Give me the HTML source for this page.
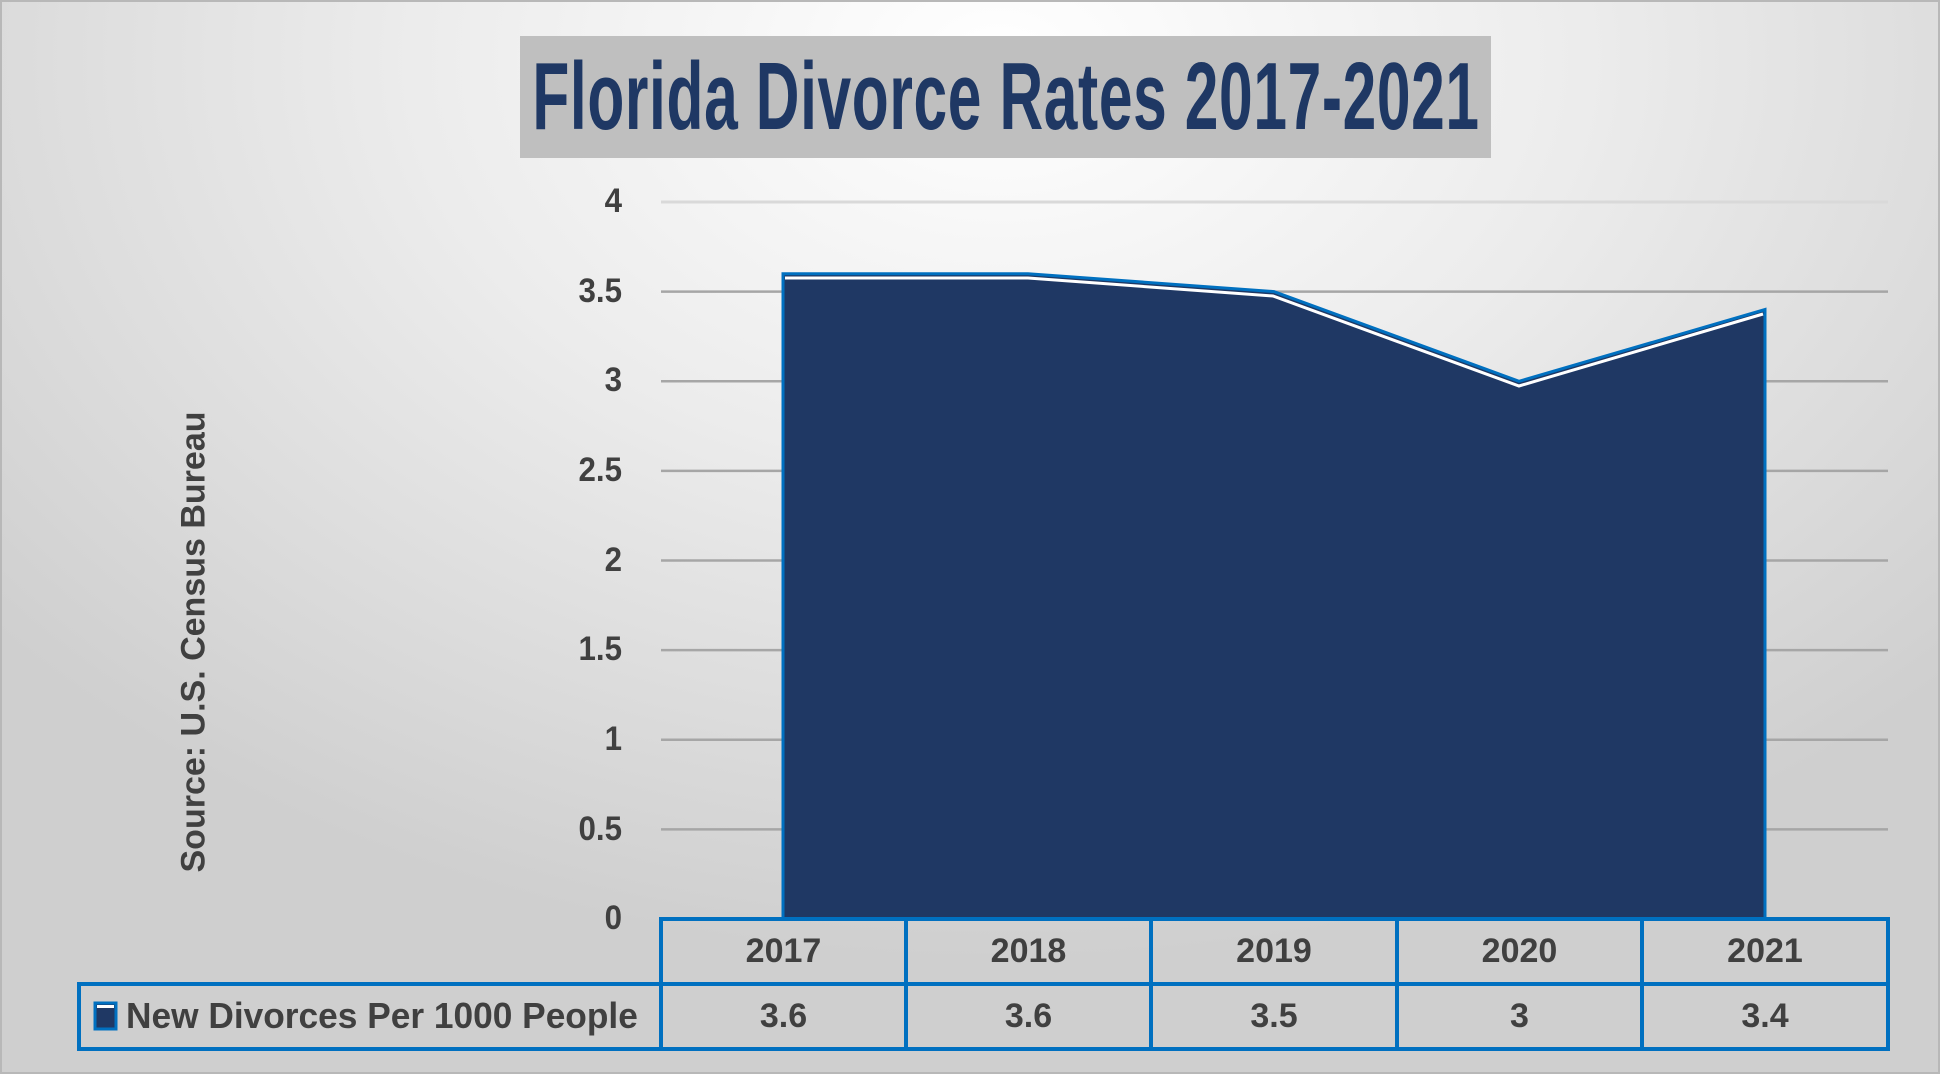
<!DOCTYPE html>
<html><head><style>
html,body{margin:0;padding:0}
body{width:1940px;height:1074px;overflow:hidden;background:radial-gradient(ellipse 1300px 900px at 1000px 60px,#ffffff 0%,#ececec 45%,#cfcfcf 100%);font-family:"Liberation Sans",sans-serif;position:relative}
.frame{position:absolute;left:0;top:0;width:1936px;height:1070px;border:2px solid #b8b8b8}
.title{position:absolute;left:520px;top:36px;width:971px;height:122px;background:#bfbfbf;overflow:hidden}
.title span{position:absolute;left:50%;top:6px;white-space:nowrap;font-weight:bold;font-size:96px;color:#1f3864;transform:translateX(-50%) scaleX(0.63);transform-origin:center;letter-spacing:1px}
.yl{position:absolute;width:90px;text-align:right;font-weight:bold;font-size:34px;color:#404040;left:532px;transform:scaleX(0.92);transform-origin:right}
.src{position:absolute;left:194px;top:642px;transform:translate(-50%,-50%) rotate(-90deg);white-space:nowrap;font-weight:bold;font-size:34px;color:#404040}
.cell{position:absolute;text-align:center;font-weight:bold;font-size:34px;color:#404040}
</style></head><body>
<div class="frame"></div>
<div class="title"><span>Florida Divorce Rates 2017-2021</span></div>
<div class="src">Source: U.S. Census Bureau</div>
<svg width="1940" height="1074" style="position:absolute;left:0;top:0">
<g stroke="#d9d9d9" stroke-width="3">
<line x1="661" y1="202" x2="1888" y2="202"/>
</g>
<g stroke="#a6a6a6" stroke-width="2.5">
<line x1="661" y1="291.6" x2="1888" y2="291.6"/>
<line x1="661" y1="381.3" x2="1888" y2="381.3"/>
<line x1="661" y1="470.9" x2="1888" y2="470.9"/>
<line x1="661" y1="560.5" x2="1888" y2="560.5"/>
<line x1="661" y1="650.1" x2="1888" y2="650.1"/>
<line x1="661" y1="739.8" x2="1888" y2="739.8"/>
<line x1="661" y1="829.4" x2="1888" y2="829.4"/>
</g>
<polygon points="783,919 783,273.7 1028,273.7 1274,291.6 1519,381.3 1765,309.5 1765,919" fill="#1f3864" stroke="#0070c0" stroke-width="3"/>
<polyline points="785,278 1028,278 1273,296 1519,386 1763,314" fill="none" stroke="#fff" stroke-width="3"/>
<g fill="none" stroke="#0070c0" stroke-width="4">
<rect x="661" y="919" width="1227" height="130"/>
<line x1="79" y1="984" x2="1888" y2="984"/>
<rect x="79" y="984" width="582" height="65"/>
<line x1="906" y1="919" x2="906" y2="1049"/>
<line x1="1151" y1="919" x2="1151" y2="1049"/>
<line x1="1397" y1="919" x2="1397" y2="1049"/>
<line x1="1642" y1="919" x2="1642" y2="1049"/>
</g>
<rect x="95" y="1003" width="21" height="26" fill="#1f3864" stroke="#0070c0" stroke-width="3"/>
<rect x="97" y="1005" width="17" height="3" fill="#fff"/>
</svg>
<div class="yl" style="top:182px">4</div>
<div class="yl" style="top:272px">3.5</div>
<div class="yl" style="top:361px">3</div>
<div class="yl" style="top:451px">2.5</div>
<div class="yl" style="top:541px">2</div>
<div class="yl" style="top:630px">1.5</div>
<div class="yl" style="top:720px">1</div>
<div class="yl" style="top:810px">0.5</div>
<div class="yl" style="top:899px">0</div>
<div class="cell" style="left:661px;width:245px;top:932px">2017</div>
<div class="cell" style="left:906px;width:245px;top:932px">2018</div>
<div class="cell" style="left:1151px;width:246px;top:932px">2019</div>
<div class="cell" style="left:1397px;width:245px;top:932px">2020</div>
<div class="cell" style="left:1642px;width:246px;top:932px">2021</div>
<div class="cell" style="left:661px;width:245px;top:997px">3.6</div>
<div class="cell" style="left:906px;width:245px;top:997px">3.6</div>
<div class="cell" style="left:1151px;width:246px;top:997px">3.5</div>
<div class="cell" style="left:1397px;width:245px;top:997px">3</div>
<div class="cell" style="left:1642px;width:246px;top:997px">3.4</div>
<div class="cell" style="left:126px;top:995px;text-align:left;white-space:nowrap;font-size:36px;transform:scaleX(0.98);transform-origin:left">New Divorces Per 1000 People</div>
</body></html>
